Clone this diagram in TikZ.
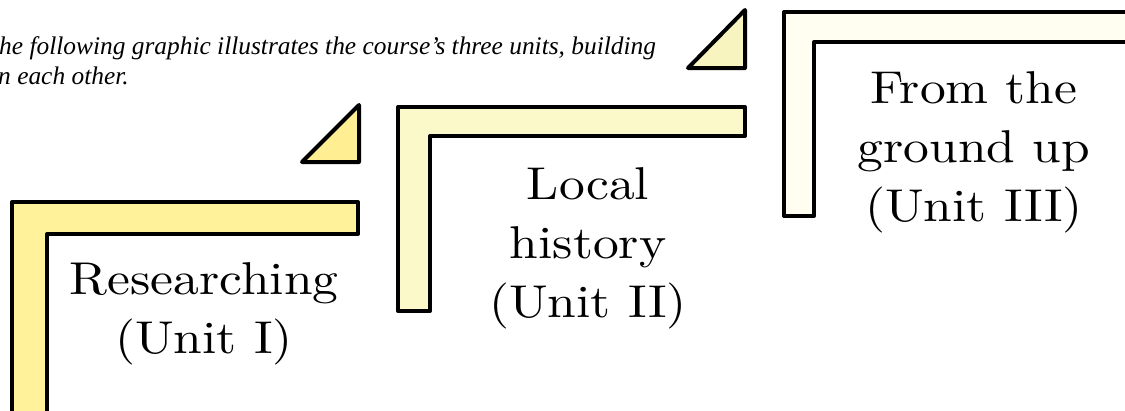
\documentclass[tikz,border=0pt]{standalone}
\usepackage{fontspec}
\newfontfamily\capfont{Liberation Serif}
\newfontfamily\unitfont[Extension=.otf,FakeStretch=1.12]{lmroman10-regular}
\definecolor{fillA}{HTML}{FFF29A}
\definecolor{fillAt}{HTML}{FFEE92}
\definecolor{fillB}{HTML}{FBF8CA}
\definecolor{fillBt}{HTML}{F8F4C0}
\definecolor{fillC}{HTML}{FFFEF0}
\tikzset{
  stepshape/.style={draw=black, line width=4pt, line join=round},
  unitlabel/.style={align=center, font=\unitfont\fontsize{46}{59}\selectfont, inner sep=0pt},
  captext/.style={anchor=base west, font=\capfont\itshape\fontsize{25.4}{30}\selectfont, inner sep=0pt}
}
\begin{document}
\begin{tikzpicture}[x=1pt,y=-1pt]
\useasboundingbox (0,0) rectangle (1125,410);
\clip (0,0) rectangle (1125,410);
\fill[white] (0,0) rectangle (1125,410);
% caption
\node[captext] (cap1) at (-1,54) {he following graphic illustrates the course’s three units, building};
\node[captext] (cap2) at (-2,84) {n each other.};
% unit I
\draw[stepshape, fill=fillA] (12,440) -- (12,202) -- (358,202) -- (358,234) -- (47,234) -- (47,440) -- cycle;
\draw[stepshape, fill=fillAt] (302,162) -- (359,105) -- (359,162) -- cycle;
% unit II
\draw[stepshape, fill=fillB] (398,311) -- (398,107) -- (745,107) -- (745,136) -- (430,136) -- (430,311) -- cycle;
\draw[stepshape, fill=fillBt] (688,68) -- (745,10) -- (745,68) -- cycle;
% unit III
\draw[stepshape, fill=fillC] (784,216) -- (784,12) -- (1150,12) -- (1150,42) -- (814,42) -- (814,216) -- cycle;
% labels
\node[unitlabel] (u1) at (204,314) {Researching\\(Unit I)};
\node[unitlabel] (u2) at (588,248) {Local\\history\\(Unit II)};
\node[unitlabel] (u3) at (974,152) {From the\\ground up\\(Unit III)};
\end{tikzpicture}
\end{document}
